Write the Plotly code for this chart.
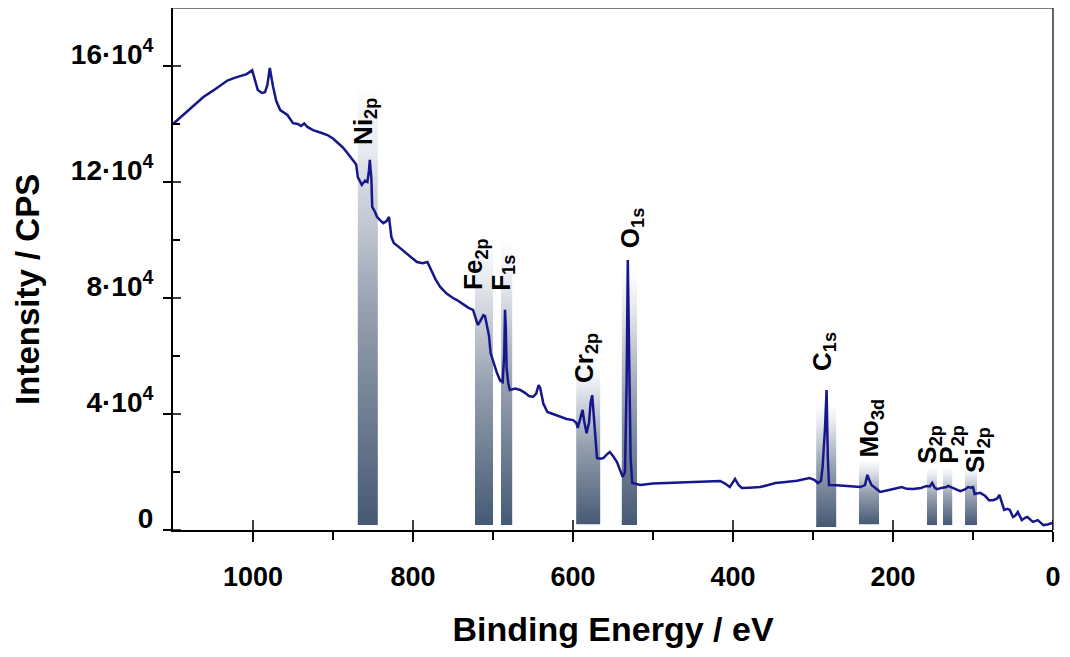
import plotly.graph_objects as go

# ---------------- data ----------------
energy = [1100, 1090, 1080, 1070, 1062, 1050, 1040, 1032, 1024, 1016, 1008, 1001, 997, 994, 989, 985, 982, 979,
          975, 971, 966, 962, 957, 950, 944, 940, 936, 932, 925, 915, 907, 900, 895, 888, 882, 875, 871, 869,
          864, 860, 857, 855, 854, 852, 851, 848, 845, 840, 837, 833, 830, 827, 824, 816, 808, 800, 795, 788,
          782, 778, 772, 766, 758, 750, 745, 737, 730, 725, 722, 719, 716, 712, 710, 707, 705, 703, 699, 695,
          691, 688, 686, 685, 684, 683, 681, 679, 672, 666, 660, 655, 650, 646, 643, 641, 637, 632, 625, 616,
          608, 600, 596, 594, 591, 588, 586, 583, 580, 578, 576, 574, 572, 570, 566, 562, 558, 554, 550, 545,
          541, 538, 535, 533, 531.5, 530, 528, 526, 520, 516, 500, 480, 460, 440, 425, 416, 410, 404, 400,
          397.5, 393, 389, 380, 366, 356, 347, 340, 332, 320, 310, 304, 298, 294, 290, 288, 285, 283, 281.5,
          280, 270, 258, 250, 241, 235, 232, 230, 227, 222, 216, 205, 195, 189, 183, 175, 165, 158, 154, 151,
          148, 145, 138, 133, 131, 128, 122, 116, 110, 106, 103, 100, 98, 91, 85, 80, 75, 70, 67, 64, 61, 57,
          54, 50, 47, 44, 41, 39, 35, 32, 28, 25, 19, 15, 12, 7, 3, 1]
intensity = [140000, 142500, 145000, 147500, 149300, 151500, 153500, 155000, 155800, 156500, 157200, 158500,
             155000, 151700, 150700, 151000, 153500, 159300, 153000, 148000, 144800, 144000, 143100, 140300,
             140000, 139300, 140200, 139000, 137900, 137000, 136200, 135000, 133800, 132000, 130000, 127600,
             126000, 121700, 119000, 120500, 120000, 124000, 127600, 121000, 111400, 110000, 108000, 106500,
             105800, 106500, 108000, 101000, 99000, 97200, 95500, 93500, 92400, 92000, 92400, 90000, 86500,
             83800, 81500, 80000, 79300, 77800, 76500, 75900, 73500, 70700, 72000, 74100, 73800, 70000, 67000,
             61000, 57500, 54100, 51500, 51000, 60000, 75900, 70000, 56000, 50700, 48300, 48800, 48300, 47300,
             46200, 45900, 47000, 50000, 49000, 43500, 40700, 40000, 39000, 38300, 37900, 37000, 35200, 38000,
             41400, 37500, 33400, 37000, 44000, 46500, 40000, 32100, 24800, 24600, 24800, 26000, 26900, 25500,
             23400, 20500, 18300, 20000, 50000, 93100, 70000, 25000, 16200, 15800, 15500, 16000, 16200, 16300,
             16500, 16700, 16900, 16000, 14800, 16500, 17600, 15500, 14500, 14600, 14800, 15500, 16200, 16400,
             16600, 17000, 17600, 17900, 17200, 16200, 17000, 21700, 35000, 48300, 25000, 15500, 15400, 15200,
             15000, 14800, 15500, 19000, 17500, 15500, 14500, 13100, 13800, 14300, 14800, 14200, 14100, 14500,
             15200, 15000, 16200, 14600, 14100, 14600, 14800, 15200, 14800, 14000, 13400, 14000, 14800, 14600,
             14800, 12400, 12800, 11800, 10300, 10300, 10800, 12100, 9500, 6900, 7300, 6900, 4500, 5000, 6200,
             4500, 3400, 4200, 4500, 3500, 2800, 3400, 2500, 1700, 1900, 2300, 2400]

# peak-region bands (binding energy window, bottom, top)
band_names = ["Ni<sub>2p</sub>", "Fe<sub>2p</sub>", "F<sub>1s</sub>", "Cr<sub>2p</sub>", "O<sub>1s</sub>",
              "C<sub>1s</sub>", "Mo<sub>3d</sub>", "S<sub>2p</sub>", "P<sub>2p</sub>", "Si<sub>2p</sub>"]
band_hi = [869, 722.5, 690, 596, 539, 296, 242.5, 157.5, 137.5, 110]
band_lo = [844, 700, 676, 566, 520, 271, 217.5, 145, 126, 95]
band_bottom = [1700, 1700, 1700, 2000, 1700, 1000, 2000, 1700, 1700, 1700]
band_top = [153400, 100000, 100000, 57600, 89600, 43100, 24100, 21700, 21700, 21700]
label_energy = [861, 722.5, 689, 585, 527.5, 287, 227.5, 155, 127.5, 95]
label_base = [132000, 82100, 81700, 50000, 96500, 54100, 24100, 22000, 22000, 19000]

y_tickvals = [0, 40000, 80000, 120000, 160000]
y_ticktext = ["0", "4·10<sup>4</sup>", "8·10<sup>4</sup>", "12·10<sup>4</sup>", "16·10<sup>4</sup>"]
y_minor = [20000, 60000, 100000, 140000]
x_tickvals = [1000, 800, 600, 400, 200, 0]
x_minor = [900, 700, 500, 300, 100]

FONT = "Arial, Liberation Sans, sans-serif"

fig = go.Figure()

# gradient bands
for lo, hi, b, t in zip(band_lo, band_hi, band_bottom, band_top):
    fig.add_trace(go.Scatter(
        x=[hi, hi, lo, lo, hi], y=[b, t, t, b, b], mode="lines",
        line=dict(width=0), fill="toself",
        fillgradient=dict(type="vertical",
                          colorscale=[[0, "#465974"], [0.5, "#97a2b1"], [0.85, "#e6e9ee"], [1, "#ffffff"]]),
        hoverinfo="skip", showlegend=False))

# spectrum
fig.add_trace(go.Scatter(x=energy, y=intensity, mode="lines",
                         line=dict(color="#17178c", width=2.5), showlegend=False))

# labels
for name, e, yb in zip(band_names, label_energy, label_base):
    fig.add_annotation(x=e, y=yb, text=name, textangle=-90, showarrow=False,
                       xanchor="center", yanchor="bottom",
                       font=dict(family=FONT, size=26, color="black", weight="bold"))

# y axis title
fig.add_annotation(xref="paper", yref="paper", x=0, y=0.46, xshift=-145, text="Intensity / CPS",
                   textangle=-90, showarrow=False, xanchor="center", yanchor="middle",
                   font=dict(family=FONT, size=33, color="black", weight="bold"))

shapes = []
# inside part of major ticks (y)
for v in y_tickvals:
    shapes.append(dict(type="line", xref="paper", yref="y", xsizemode="pixel", xanchor=0,
                       x0=0, x1=8, y0=v, y1=v, line=dict(color="black", width=1.5)))
# inside part of major ticks (x)
for v in x_tickvals:
    shapes.append(dict(type="line", xref="x", yref="paper", ysizemode="pixel", yanchor=0,
                       x0=v, x1=v, y0=0, y1=10, line=dict(color="black", width=1.5)))
# thin top/right frame
shapes.append(dict(type="line", xref="paper", yref="paper", x0=0, x1=1, y0=1, y1=1,
                   line=dict(color="black", width=1.2)))
shapes.append(dict(type="line", xref="paper", yref="paper", x0=1, x1=1, y0=0, y1=1,
                   line=dict(color="black", width=1.2)))

fig.update_layout(
    width=1062, height=649,
    margin=dict(l=165, r=17, t=0, b=127, autoexpand=False),
    paper_bgcolor="white", plot_bgcolor="white",
    shapes=shapes,
    font=dict(family=FONT, color="black"),
    xaxis=dict(range=[1100, 0], showgrid=False, zeroline=False, automargin=False,
               showline=True, linecolor="black", linewidth=2,
               tickvals=x_tickvals, ticks="outside", ticklen=10, tickwidth=1.5, tickcolor="black",
               minor=dict(tickvals=x_minor, ticks="outside", ticklen=8, tickwidth=1.5, tickcolor="black"),
               ticklabelstandoff=12,
               tickfont=dict(family=FONT, size=27, weight="bold"),
               title=dict(text="Binding Energy / eV", standoff=26,
                          font=dict(family=FONT, size=34, weight="bold"))),
    yaxis=dict(range=[0, 180000], showgrid=False, zeroline=False, automargin=False,
               showline=True, linecolor="black", linewidth=2,
               tickvals=y_tickvals, ticktext=y_ticktext,
               ticks="outside", ticklen=8, tickwidth=1.5, tickcolor="black",
               minor=dict(tickvals=y_minor, ticks="inside", ticklen=7, tickwidth=1.5, tickcolor="black"),
               ticklabelshift=-12, ticklabelstandoff=4,
               tickfont=dict(family=FONT, size=28, weight="bold")),
)

fig.write_html("out.html")
